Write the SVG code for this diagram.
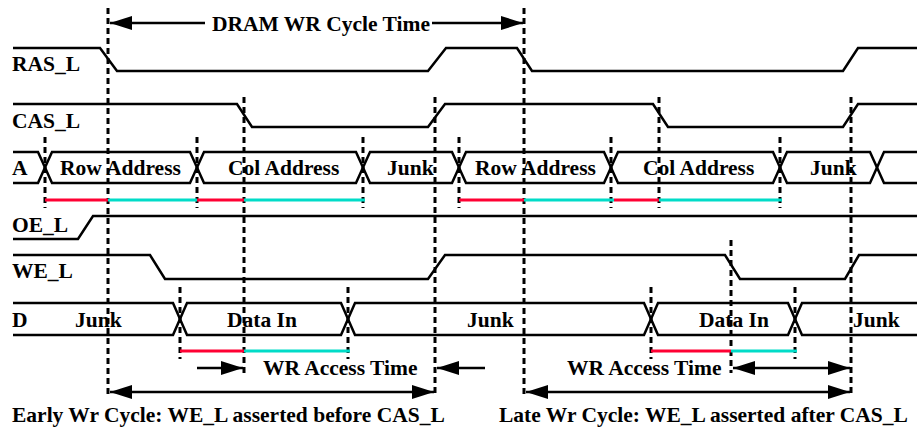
<svg xmlns="http://www.w3.org/2000/svg" width="917" height="430" viewBox="0 0 917 430">
<defs>
<style>
.w{fill:none;stroke:#000;stroke-width:2.5;stroke-linejoin:miter}
.d{fill:none;stroke:#000;stroke-width:3;stroke-dasharray:6 4}
.r{stroke:#ff0033;stroke-width:3}
.c{stroke:#00dcc8;stroke-width:3}
.a{fill:none;stroke:#000;stroke-width:2.5}
text{font-family:"Liberation Serif","Times New Roman",serif;font-weight:bold;font-size:21.5px;fill:#000}
</style>
<marker id="ah" markerUnits="userSpaceOnUse" markerWidth="24" markerHeight="16" refX="22" refY="7" orient="auto-start-reverse" viewBox="0 0 24 16">
<path d="M0,0 L22,7 L0,14 z" fill="#000"/>
</marker>
</defs>
<rect width="917" height="430" fill="#fff"/>

<g id="guides">
<line class="d" x1="108" y1="8" x2="108" y2="397"/>
<line class="d" x1="524" y1="8" x2="524" y2="397"/>
<line class="d" x1="244" y1="97" x2="244" y2="375"/>
<line class="d" x1="435" y1="97" x2="435" y2="397"/>
<line class="d" x1="659" y1="97" x2="659" y2="208"/>
<line class="d" x1="851" y1="97" x2="851" y2="397"/>
<line class="d" x1="45" y1="137" x2="45" y2="208"/>
<line class="d" x1="197" y1="137" x2="197" y2="208"/>
<line class="d" x1="363" y1="137" x2="363" y2="208"/>
<line class="d" x1="459" y1="137" x2="459" y2="208"/>
<line class="d" x1="611" y1="137" x2="611" y2="208"/>
<line class="d" x1="780" y1="137" x2="780" y2="208"/>
<line class="d" x1="731" y1="240" x2="731" y2="373"/>
<line class="d" x1="180" y1="287" x2="180" y2="359"/>
<line class="d" x1="348" y1="287" x2="348" y2="359"/>
<line class="d" x1="651" y1="287" x2="651" y2="359"/>
<line class="d" x1="795" y1="287" x2="795" y2="359"/>
</g>

<g id="RAS_L">
<text x="12" y="71">RAS_L</text>
<path class="w" d="M13,48 L100,48 L117,71 L428,71 L446,48 L517,48 L532,71 L843,71 L858,48 L917,48"/>
</g>

<g id="CAS_L">
<text x="12" y="128">CAS_L</text>
<path class="w" d="M13,104 L237,104 L252,127 L428,127 L445,104 L653,104 L668,127 L843,127 L858,104 L917,104"/>
</g>

<g id="A">
<text x="12" y="175">A</text>
<path class="w" d="M13,152 L38,152 L52,183 L190,183 L204,152 L356,152 L370,183 L452,183 L466,152 L604,152 L618,183 L773,183 L787,152 L870,152 L884,183 L917,183"/>
<path class="w" d="M13,183 L38,183 L52,152 L190,152 L204,183 L356,183 L370,152 L452,152 L466,183 L604,183 L618,152 L773,152 L787,183 L870,183 L884,152 L917,152"/>
<text x="60" y="175">Row Address</text>
<text x="228" y="175">Col Address</text>
<text x="387" y="175">Junk</text>
<text x="475" y="175">Row Address</text>
<text x="643" y="175">Col Address</text>
<text x="810" y="175">Junk</text>
<line class="r" x1="45" y1="200" x2="108" y2="200"/>
<line class="c" x1="108" y1="200" x2="197" y2="200"/>
<line class="r" x1="197" y1="200" x2="244" y2="200"/>
<line class="c" x1="244" y1="200" x2="365" y2="200"/>
<line class="r" x1="459" y1="200" x2="524" y2="200"/>
<line class="c" x1="524" y1="200" x2="614" y2="200"/>
<line class="r" x1="614" y1="200" x2="659" y2="200"/>
<line class="c" x1="659" y1="200" x2="782" y2="200"/>
</g>

<g id="OE_L">
<text x="12" y="232">OE_L</text>
<path class="w" d="M13,239 L78,239 L93,216 L917,216"/>
</g>

<g id="WE_L">
<text x="12" y="278">WE_L</text>
<path class="w" d="M13,255 L150,255 L165,279 L428,279 L445,255 L725,255 L740,279 L845,279 L859,255 L917,255"/>
</g>

<g id="D">
<text x="12" y="327">D</text>
<path class="w" d="M13,303 L173,303 L187,335 L341,335 L355,303 L644,303 L658,335 L788,335 L802,303 L917,303"/>
<path class="w" d="M13,335 L173,335 L187,303 L341,303 L355,335 L644,335 L658,303 L788,303 L802,335 L917,335"/>
<text x="75" y="327">Junk</text>
<text x="227" y="327">Data In</text>
<text x="467" y="327">Junk</text>
<text x="699" y="327">Data In</text>
<text x="853" y="327">Junk</text>
<line class="r" x1="180" y1="351" x2="244" y2="351"/>
<line class="c" x1="244" y1="351" x2="350" y2="351"/>
<line class="r" x1="651" y1="351" x2="731" y2="351"/>
<line class="c" x1="731" y1="351" x2="797" y2="351"/>
</g>

<g id="labels">
<text x="212" y="31">DRAM WR Cycle Time</text>
<text x="263" y="375">WR Access Time</text>
<text x="567" y="375">WR Access Time</text>
<text x="12" y="422">Early Wr Cycle: WE_L asserted before CAS_L</text>
<text x="499" y="422">Late Wr Cycle: WE_L asserted after CAS_L</text>
</g>

<g id="connectors">
<line class="a" x1="205" y1="23" x2="110" y2="23" marker-end="url(#ah)"/>
<line class="a" x1="432" y1="23" x2="523" y2="23" marker-end="url(#ah)"/>
<line class="a" x1="197" y1="368" x2="243" y2="368" marker-end="url(#ah)"/>
<line class="a" x1="485" y1="368" x2="437" y2="368" marker-end="url(#ah)"/>
<line class="a" x1="733" y1="368" x2="850" y2="368" marker-start="url(#ah)" marker-end="url(#ah)"/>
<line class="a" x1="110" y1="392" x2="434" y2="392" marker-start="url(#ah)" marker-end="url(#ah)"/>
<line class="a" x1="526" y1="392" x2="850" y2="392" marker-start="url(#ah)" marker-end="url(#ah)"/>
</g>
</svg>
